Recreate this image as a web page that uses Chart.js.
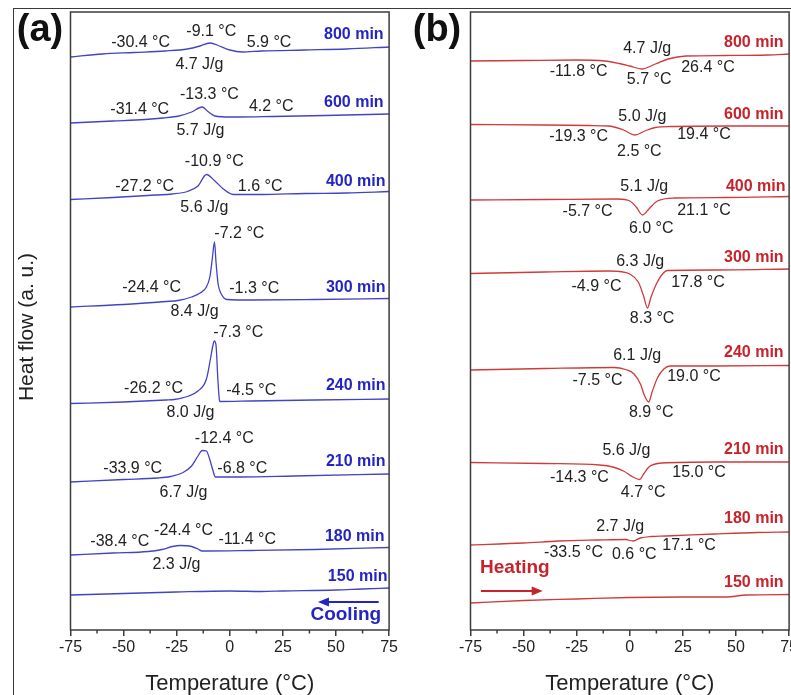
<!DOCTYPE html>
<html>
<head>
<meta charset="utf-8">
<script src="https://cdn.jsdelivr.net/npm/chart.js@4"></script>
<style>
  html, body { margin: 0; padding: 0; background: #fff; width: 791px; height: 695px; overflow: hidden; }
  #frame { position: absolute; left: 13px; top: 8px; width: 900px; height: 800px; border: 1.5px solid #3a3a3a; }
  canvas { position: absolute; top: 0; }
  #cvA { left: 0; }
  #cvB { left: 400px; }
</style>
</head>
<body>
<div id="frame"></div>
<canvas id="cvA" width="400" height="695"></canvas>
<canvas id="cvB" width="400" height="695"></canvas>
<script>
// x ekseni
const xTicks = [-75, -50, -25, 0, 25, 50, 75];
const minorTicks = [-62.5, -37.5, -12.5, 12.5, 37.5, 62.5];
const times = ['800 min', '600 min', '400 min', '300 min', '240 min', '210 min', '180 min', '150 min'];

// (a) soğutma eğrileri: [sıcaklık, ısı akışı (a.u.)]
const cool800 = [[-75,573],[-60,576],[-45,577.5],[-30.4,579],[-20,581],[-14,584],[-9.5,587],[-6,585],[0,580],[5.9,578],[15,579],[35,580],[55,581],[75,583]];
const cool600 = [[-75,507],[-55,509],[-40,510.5],[-31.4,512],[-24,514],[-18,518],[-13,523],[-10,518],[-7,514],[0,513],[4.2,513],[20,513.5],[45,514.5],[75,516]];
const cool400 = [[-75,430.5],[-55,432.5],[-35,435],[-27.2,436],[-20,438.5],[-15,444],[-11,455.5],[-7,449],[-3,441],[1.6,435.5],[15,435.5],[35,436.5],[55,437],[75,438.5]];
const cool300 = [[-75,323],[-50,325.5],[-30,328.5],[-24.4,329.5],[-18,333],[-14,337],[-11,343],[-9.3,354],[-8.2,372],[-7.2,388],[-6.5,368],[-5.5,346],[-4,336],[-1.3,330.5],[10,330],[40,330.5],[75,331.5]];
const cool240 = [[-75,226.5],[-50,228],[-30,230],[-26.2,230.5],[-20,233.5],[-15,239],[-11,251],[-9.2,270],[-8,284],[-7.3,289],[-6.5,285],[-5.6,250],[-4.8,229],[-4.5,228.5],[10,229],[40,230],[75,231]];
const cool210 = [[-75,148],[-50,150.5],[-33.9,152],[-28,153.5],[-22,157.5],[-18,164],[-15,174],[-13,179.5],[-11,179],[-9.5,171],[-8,160],[-6.8,153],[5,153],[30,154],[75,156]];
const cool180 = [[-75,75],[-55,77],[-38.4,78.5],[-32,80.5],[-27,83.5],[-23.5,84.5],[-18,83.5],[-15,81],[-13,79],[-11.4,79],[10,79.5],[40,80.5],[75,82.5]];
const cool150 = [[-75,35],[-50,36.5],[-25,38],[0,39],[15,38.5],[25,39],[50,40],[62,41],[75,42]];

// (b) ısıtma eğrileri
const heat800 = [[-75,569],[-50,569.5],[-25,570],[-11.8,569],[-5,566.5],[0,564],[5.7,561],[12,566],[18,571],[26.4,574],[45,574.5],[65,575],[75,576]];
const heat600 = [[-75,505.5],[-40,505],[-19.3,504.5],[-10,504],[-3,500],[2.5,495],[7,499],[12,502.5],[19.4,503.5],[45,504],[75,504]];
const heat400 = [[-75,430],[-40,430.5],[-5.7,431],[0,429],[3,423],[6,415],[9,421],[13,429],[21.1,432],[45,432.5],[75,433.5]];
const heat300 = [[-75,356.5],[-40,358],[-10,359],[-4.9,358.5],[0,356],[4,348],[6.5,334],[8.3,322],[10,333],[12.5,346],[15,355],[17.8,359.5],[40,360],[75,361]];
const heat240 = [[-75,260],[-40,261.5],[-7.5,262.5],[-2,260.5],[2,256],[5,246],[7,234],[8.9,228],[10.5,238],[13,252],[16,261],[19,264],[40,264],[75,264.5]];
const heat210 = [[-75,167.5],[-40,166.5],[-14.3,165],[-8,163],[-3,159],[1.5,153],[4.7,150.5],[6.5,156],[9,163],[15,167],[40,168],[75,168]];
const heat180 = [[-75,85],[-50,87],[-33.5,89],[-15,90],[-2,90.5],[1.5,89],[5,92],[10,93.5],[17.1,94],[40,96],[60,97.5],[75,98]];
const heat150 = [[-75,27],[-50,29.5],[-25,31],[0,32.5],[25,33],[45,33],[55,35],[75,35.5]];

// etiketler: [metin, sıcaklık, ısı akışı]
const coolNotes = [
  ['-30.4 °C',-42,587],['-9.1 °C',-8.7,598],['5.9 °C',18.5,587],['4.7 J/g',-14.3,565],
  ['-31.4 °C',-42.4,520],['-13.3 °C',-9.6,535],['4.2 °C',19.5,523],['5.7 J/g',-13.8,499],
  ['-10.9 °C',-7.3,468],['-27.2 °C',-40.1,443],['1.6 °C',14.3,443],['5.6 J/g',-12,422],
  ['-7.2 °C',4.5,396],['-24.4 °C',-36.8,342],['-1.3 °C',11.5,341],['8.4 J/g',-16.6,318],
  ['-7.3 °C',4.0,297],['-26.2 °C',-35.9,241],['-4.5 °C',10.1,239],['8.0 J/g',-18.5,217],
  ['-12.4 °C',-2.6,191],['-33.9 °C',-45.7,161],['-6.8 °C',5.9,161],['6.7 J/g',-21.8,137],
  ['-38.4 °C',-51.8,88],['-24.4 °C',-21.8,99],['-11.4 °C',8.2,90],['2.3 J/g',-25.1,65]
];
const heatNotes = [
  ['4.7 J/g',8.2,581],['-11.8 °C',-24.1,558],['5.7 °C',9.1,550],['26.4 °C',36.8,562],
  ['5.0 J/g',5.9,513],['-19.3 °C',-24.1,493],['19.4 °C',34.9,495],['2.5 °C',4.5,478],
  ['5.1 J/g',6.8,443],['-5.7 °C',-19.9,418],['21.1 °C',34.9,419],['6.0 °C',10.1,401],
  ['6.3 J/g',4.9,368],['-4.9 °C',-15.7,343],['17.8 °C',32.1,347],['8.3 °C',10.5,311],
  ['6.1 J/g',3.5,274],['-7.5 °C',-15.2,249],['19.0 °C',30.2,253],['8.9 °C',10.1,217],
  ['5.6 J/g',-1.6,179],['-14.3 °C',-23.7,152],['15.0 °C',32.6,157],['4.7 °C',6.3,137],
  ['2.7 J/g',-4.5,103],['-33.5 °C',-26.5,77],['0.6 °C',2.1,75],['17.1 °C',27.9,84]
];
const coolTimePos = [[58.4,595],[58.4,527],[59.3,448],[59.3,342],[59.3,244],[59.3,168],[58.8,93],[60.2,53]];
const heatTimePos = [[58.4,587],[58.4,515],[59.3,443],[58.4,372],[58.4,277],[58.4,180],[58.4,111],[58.4,47]];

const FONT = '"Liberation Sans", Arial, sans-serif';

const decor = {
  id: 'decor',
  afterDraw(chart, args, o) {
    const { ctx, chartArea: a, scales: { x, y } } = chart;
    ctx.save();
    // çerçeve ve ara çentikler
    ctx.strokeStyle = '#3c3c3c';
    ctx.lineWidth = 1.5;
    ctx.strokeRect(a.left, a.top, a.right - a.left, a.bottom - a.top);
    minorTicks.forEach(t => {
      const px = x.getPixelForValue(t);
      ctx.beginPath(); ctx.moveTo(px, a.bottom); ctx.lineTo(px, a.bottom + 3.5); ctx.stroke();
    });

    ctx.textAlign = 'center';
    ctx.textBaseline = 'middle';
    ctx.fillStyle = '#222';
    ctx.font = '16px ' + FONT;
    o.notes.forEach(([s, t, v]) => ctx.fillText(s, x.getPixelForValue(t), y.getPixelForValue(v)));

    ctx.fillStyle = o.color;
    ctx.font = 'bold 16px ' + FONT;
    times.forEach((s, i) => ctx.fillText(s, x.getPixelForValue(o.timePos[i][0]), y.getPixelForValue(o.timePos[i][1])));

    // ok ve yön yazısı
    ctx.font = 'bold 19px ' + FONT;
    ctx.fillText(o.dir[0], x.getPixelForValue(o.dir[1]), y.getPixelForValue(o.dir[2]));
    const x0 = x.getPixelForValue(o.arrow[0]), x1 = x.getPixelForValue(o.arrow[1]), ay = y.getPixelForValue(o.arrow[2]);
    const sgn = Math.sign(x1 - x0);
    ctx.strokeStyle = o.color; ctx.lineWidth = 2;
    ctx.beginPath(); ctx.moveTo(x0, ay); ctx.lineTo(x1 - sgn * 8, ay); ctx.stroke();
    ctx.beginPath(); ctx.moveTo(x1, ay); ctx.lineTo(x1 - sgn * 11, ay - 4.5); ctx.lineTo(x1 - sgn * 11, ay + 4.5); ctx.closePath(); ctx.fill();

    // panel harfi
    ctx.fillStyle = '#111';
    ctx.font = 'bold 38px ' + FONT;
    ctx.fillText(o.tag, o.tagX, 31);

    if (o.yTitle) {
      ctx.translate(27, 327);
      ctx.rotate(-Math.PI / 2);
      ctx.fillStyle = '#222';
      ctx.font = '21px ' + FONT;
      ctx.fillText(o.yTitle, 0, 0);
    }
    ctx.restore();
  }
};

function makePanel(id, curves, color, opts) {
  new Chart(document.getElementById(id), {
    type: 'line',
    data: {
      datasets: curves.map((c, i) => ({
        label: times[i],
        data: c.map(p => ({ x: p[0], y: p[1] })),
        borderColor: color,
        borderWidth: 1.3,
        pointRadius: 0,
        cubicInterpolationMode: 'monotone'
      }))
    },
    options: {
      responsive: false,
      animation: false,
      devicePixelRatio: 1,
      layout: { padding: { left: 70.5, right: 9, top: 12, bottom: 0 } },
      plugins: { legend: { display: false }, tooltip: { enabled: false }, decor: opts },
      scales: {
        x: {
          type: 'linear', min: -75, max: 75,
          afterBuildTicks: s => { s.ticks = xTicks.map(v => ({ value: v })); },
          afterFit: s => { s.height = 65; },
          ticks: { color: '#222', font: { size: 16, family: FONT }, padding: 2, maxRotation: 0, autoSkip: false },
          grid: { drawOnChartArea: false, tickLength: 6, color: '#3c3c3c', lineWidth: 1.5 },
          border: { display: false },
          title: { display: true, text: 'Temperature (°C)', color: '#222', font: { size: 22, family: FONT }, padding: { top: 0, bottom: -2 } }
        },
        y: { display: false, min: 0, max: 618 }
      }
    },
    plugins: [decor]
  });
}

makePanel('cvA', [cool800, cool600, cool400, cool300, cool240, cool210, cool180, cool150], '#4343c6', {
  notes: coolNotes, timePos: coolTimePos, color: '#2424c4',
  dir: ['Cooling', 54.6, 15], arrow: [70.1, 41.5, 28],
  tag: '(a)', tagX: 40, yTitle: 'Heat flow (a. u.)'
});
makePanel('cvB', [heat800, heat600, heat400, heat300, heat240, heat210, heat180, heat150], '#d23a3a', {
  notes: heatNotes, timePos: heatTimePos, color: '#c8222a',
  dir: ['Heating', -54.1, 62], arrow: [-70.1, -41, 39],
  tag: '(b)', tagX: 37, yTitle: null
});
</script>
</body>
</html>
